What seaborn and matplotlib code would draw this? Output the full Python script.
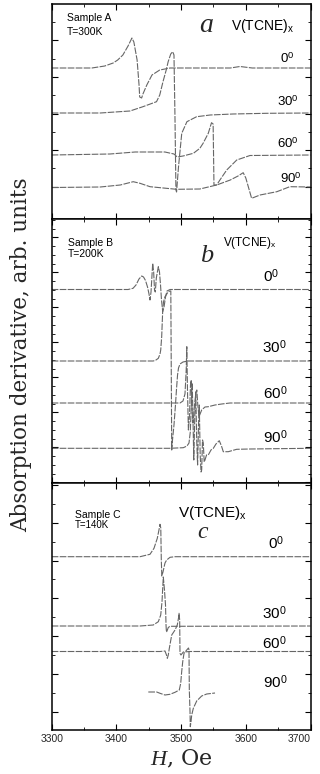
import numpy as np
import pandas as pd
import matplotlib
matplotlib.use('Agg')
import matplotlib.pyplot as plt
import seaborn as sns
from matplotlib.ticker import MultipleLocator, FixedLocator, NullFormatter

sns.set_style('ticks')
plt.rcParams['font.family'] = ['Liberation Sans', 'DejaVu Sans']
plt.rcParams['mathtext.fontset'] = 'custom'
plt.rcParams['mathtext.rm'] = 'Liberation Sans'
plt.rcParams['mathtext.it'] = 'Liberation Serif:italic'
plt.rcParams['mathtext.bf'] = 'Liberation Sans:bold'

# ---------------- data (H in Oe, derivative signal in arb. units) ----------------
angles = ['0', '30', '60', '90']

# Sample A, T=300K
a0_H = [3300, 3362, 3382, 3395, 3402, 3410, 3418, 3424, 3427, 3432, 3435, 3436, 3439, 3441, 3447, 3455, 3467, 3483, 3506, 3576, 3591, 3610, 3622, 3700]
a0_S = [0, 0, 2, 5, 8, 13, 22, 30, 26, 8, -17, -29, -30, -26, -17, -7, -2, 0, 0, 0, 1.5, 0, 0, 0]
a30_H = [3300, 3375, 3421, 3441, 3462, 3467, 3472, 3477, 3480, 3484, 3487, 3489, 3490.6, 3492, 3493, 3496, 3501, 3509, 3524, 3545, 3580, 3632, 3700]
a30_S = [0, 0, 2, 6.3, 11.3, 18, 31.3, 43, 51.3, 59, 61.3, 58, -7, -77, -79, -53.7, -20.3, -8.7, -3.7, -2, -1, -0.3, 0]
a60_H = [3300, 3390, 3429, 3452, 3475, 3489, 3494, 3503, 3519, 3529, 3534, 3542, 3547, 3549.5, 3550.8, 3555, 3560, 3570.5, 3586, 3606.5, 3700]
a60_S = [0, 1, 3, 3, 3, 1, -2, -1, 1.7, 6.7, 11.7, 21.7, 32.3, 31, -30, -30, -25, -15, -5, -0.5, 0]
a90_H = [3300, 3375, 3406, 3426, 3436.5, 3452, 3493, 3529, 3555, 3576, 3588, 3596, 3600, 3609, 3622, 3648, 3668, 3700]
a90_S = [0, 0.5, 2.5, 5.8, 4.2, 0.8, -1.8, -1.5, 2.5, 7.5, 11.5, 14.8, 9.5, -10.8, -7.5, -4.2, 0.8, 0.5]
a_offsets = [151, 106, 64, 31.5]

# Sample B, T=200K
b0_H = [3300, 3418, 3425.7, 3430.3, 3434.9, 3439.1, 3441.9, 3445, 3448.1, 3450.4, 3451.9, 3453.5, 3456.1, 3457.6, 3458.9, 3460.1, 3461.7, 3464.8, 3466.6, 3468.2, 3469.7, 3471.6, 3473.6, 3475.9, 3478.2, 3482.9, 3700]
b0_S = [0, 0, 1.2, 4.5, 10.5, 13.5, 12.5, 9, 2.5, -4.5, -10.5, -2.5, 26.2, 17.5, -0.5, -2.5, 11.5, 22.8, 17.5, 4.5, -10.5, -22.2, -17.5, -7.5, -1.5, 0, 0]
b30_H = [3300, 3452, 3457, 3461.2, 3464.8, 3467.4, 3468.5, 3470, 3471.6, 3472.8, 3475.1, 3480.2, 3482.8, 3484.1, 3485.5, 3486.7, 3489, 3491.3, 3492.8, 3494.5, 3496, 3498.3, 3502.9, 3510.7, 3700]
b30_S = [0, 0, 0, 1, 2.7, 7, 11, 24.3, 51, 59, 64.3, 69.3, 70, 70, -89, -79, -64, -44, -29, -14, -7, -3, -1, 0, 0]
b60_H = [3300, 3498.3, 3502.9, 3506, 3507.9, 3508.8, 3510, 3511.3, 3513, 3514.5, 3515.6, 3516.8, 3518.4, 3520.7, 3523, 3524.3, 3525.8, 3527.7, 3531.8, 3536.9, 3542, 3552.4, 3562.8, 3575.6, 3700]
b60_S = [0, 0, 2, 9, 33, 56.3, 8, -27, -12, 18, 23, -7, -20, -2, 11, 13, -2, -13.7, -7, -4, -3.7, -2, -1, 0, 0]
b90_H = [3300, 3482.8, 3503.4, 3509.1, 3512.2, 3514.2, 3515.8, 3517.2, 3518.4, 3519.6, 3521.2, 3522.7, 3524.1, 3525.5, 3526.9, 3528.1, 3529.5, 3530.8, 3531.8, 3533.1, 3534.3, 3535.7, 3536.9, 3539.3, 3542, 3546.2, 3549.8, 3553.9, 3559, 3562.4, 3565.2, 3572.9, 3585.9, 3606.5, 3700]
b90_S = [0, 0, 0.6, 2.3, 5.3, 16.3, 43.3, 65.3, 28.3, -11.7, 33.3, 56.3, 8.3, -16.7, 23.3, 43.3, -6.7, -23.7, -21.7, 8.3, 5.3, -13.7, -11.7, -6.7, -6.7, -1.7, 0, 4.3, 7.6, 2.3, -3.4, -3.4, -1, -0.7, 0]
b_offsets = [193.8, 122.3, 80.3, 35]

# Sample C, T=140K
c0_H = [3300, 3436.5, 3451.9, 3458.1, 3463.2, 3466.3, 3467.4, 3468.6, 3469.4, 3470.2, 3472, 3475.1, 3477.7, 3482.9, 3490.6, 3700]
c0_S = [0, 0, 2.4, 8.4, 18.4, 28.4, 32.4, 28.7, -3.3, -19.3, -15.3, -6.3, -3.3, -0.6, 0, 0]
c30_H = [3300, 3436.5, 3457, 3464.8, 3468.5, 3470.5, 3471.6, 3472.5, 3474.3, 3475.9, 3476.7, 3477.3, 3478.2, 3480.2, 3482.8, 3700]
c30_S = [0, 0, 1, 4.3, 11, 24.3, 38, 49, 36, 21, 1, -6, -5, -1.5, -0.3, 0]
c60_H = [3300, 3467.4, 3475.1, 3477.4, 3478.7, 3480.2, 3481.8, 3485.5, 3490.6, 3494.1, 3496, 3496.8, 3497.8, 3498.3, 3499.8, 3503.4, 3513.8, 3700]
c60_S = [0, 0, 0.5, -3.5, -6.8, -3.5, 3.2, 16.5, 21.5, 26.5, 33.5, 38.2, 31.5, -1.8, -3.5, -0.5, 0, 0]
c90_H = [3449.3, 3462.3, 3467.4, 3475.1, 3482.8, 3490.6, 3497.2, 3499.4, 3500.9, 3502.5, 3504.5, 3508.7, 3511.4, 3512.2, 3512.7, 3513.8, 3514.2, 3515.3, 3516.4, 3518.9, 3524.1, 3531.8, 3539.6, 3552.4]
c90_S = [0.5, 0.5, -0.8, -2.5, -1.8, 0.2, 2.5, 9.2, 20.8, 30.8, 39.2, 42.5, 44.5, 42.5, 2.5, -19.5, -34.2, -29.5, -22.5, -15.8, -8.5, -3.5, -1.5, -0.5]
c_offsets = [173.3, 104, 78.5, 37.5]

x_ticks = [3300, 3400, 3500, 3600, 3700]

# ---------------- figure ----------------
W, HH = 320, 774
fig = plt.figure(figsize=(W / 100, HH / 100), dpi=100)
fig.patch.set_facecolor('white')

LEFT, RIGHT = 51.7, 310.5
def rect(top, bottom):
    return [LEFT / W, 1 - bottom / HH, (RIGHT - LEFT) / W, (bottom - top) / HH]

def fx(px):
    return px / W
def fy(py):
    return 1 - py / HH

line_color = '#666666'

def build(Hs, Ss, offs):
    frames = []
    for ang, h, s, o in zip(angles, Hs, Ss, offs):
        frames.append(pd.DataFrame({'H': h, 'y': np.asarray(s, float) + o, 'angle': ang}))
    return pd.concat(frames, ignore_index=True)

panels = [
    dict(top=4, bottom=219, H=[a0_H, a30_H, a60_H, a90_H], S=[a0_S, a30_S, a60_S, a90_S], off=a_offsets,
         yt=np.arange(32.3, 215, 18.3)),
    dict(top=219, bottom=483.3, H=[b0_H, b30_H, b60_H, b90_H], S=[b0_S, b30_S, b60_S, b90_S], off=b_offsets,
         yt=np.arange(1.0, 264, 8.75)),
    dict(top=483.3, bottom=730, H=[c0_H, c30_H, c60_H, c90_H], S=[c0_S, c30_S, c60_S, c90_S], off=c_offsets,
         yt=np.arange(18.3, 246, 18.9)),
]

axes = []
for i, p in enumerate(panels):
    ax = fig.add_axes(rect(p['top'], p['bottom']))
    df = build(p['H'], p['S'], p['off'])
    sns.lineplot(data=df, x='H', y='y', units='angle', estimator=None, sort=False,
                 color=line_color, linewidth=0.8, linestyle=(0, (6, 1.2)), ax=ax, legend=False)
    ax.set_xlim(3300, 3700)
    ax.set_ylim(0, p['bottom'] - p['top'])
    ax.set_facecolor('white')
    for sp in ax.spines.values():
        sp.set_visible(True)
        sp.set_color('black')
        sp.set_linewidth(1.1)
    ax.xaxis.set_major_locator(FixedLocator(x_ticks))
    ax.xaxis.set_minor_locator(MultipleLocator(50))
    yt = p['yt']
    step = 2 if i != 1 else 4
    ax.yaxis.set_major_locator(FixedLocator(yt[::step]))
    ax.yaxis.set_minor_locator(FixedLocator(yt))
    ax.yaxis.set_major_formatter(NullFormatter())
    ax.tick_params(axis='both', which='both', direction='in', top=True, right=True, color='black')
    ax.tick_params(axis='both', which='major', length=4, width=0.8)
    ax.tick_params(axis='both', which='minor', length=2.5, width=0.6)
    ax.set_xlabel('')
    ax.set_ylabel('')
    if i < 2:
        ax.xaxis.set_major_formatter(NullFormatter())
    else:
        ax.set_xticklabels([str(t) for t in x_ticks], fontsize=7.5)
        ax.tick_params(axis='x', which='major', pad=3)
        labs = ax.get_xticklabels()
        labs[-1].set_horizontalalignment('right')
    axes.append(ax)

# ---------------- texts ----------------
def t(px, py, s, **kw):
    fig.text(fx(px), fy(py), s, **kw)

sans = dict(ha='left', va='center', color='black')
# panel a
t(66.7, 18.3, 'Sample A', fontsize=7.5, **sans)
t(66.7, 32.3, 'T=300K', fontsize=7.5, **sans)
t(206.7, 25, '$a$', fontsize=20, ha='center', va='center')
t(230.7, 26, 'V(TCNE)$_{\\mathregular{x}}$', fontsize=10, **sans)
for (x, y), ang in zip([(280, 58.3), (276.7, 101.7), (276.7, 143.3), (280, 178.3)], angles):
    t(x, y, ang + '$^{\\mathregular{0}}$', fontsize=9.5, **sans)
# panel b
t(68, 242.7, 'Sample B', fontsize=7.5, **sans)
t(68, 254, 'T=200K', fontsize=7.5, **sans)
t(206.7, 255, '$b$', fontsize=19, ha='center', va='center')
t(222.7, 243.3, 'V(TCNE)$_{\\mathregular{x}}$', fontsize=8.5, **sans)
for (x, y), ang in zip([(263, 276), (261.7, 346.7), (262.7, 392.7), (262.7, 436.7)], angles):
    t(x, y, ang + '$^{\\mathregular{0}}$', fontsize=11, **sans)
# panel c
t(75, 515, 'Sample C', fontsize=7.5, **sans)
t(75, 525.5, 'T=140K', fontsize=7, **sans)
t(178.3, 513.3, 'V(TCNE)$_{\\mathregular{x}}$', fontsize=11, **sans)
t(203.3, 531.7, '$c$', fontsize=17, ha='center', va='center')
for (x, y), ang in zip([(267.7, 543.3), (261.7, 613.3), (261.7, 643.3), (262.7, 681.7)], angles):
    t(x, y, ang + '$^{\\mathregular{0}}$', fontsize=11, **sans)

# axis labels
t(181, 759, '$H$, Oe', fontsize=16, ha='center', va='center', family='DejaVu Serif')
t(21, 355, 'Absorption derivative, arb. units', fontsize=15.5, rotation=90,
  ha='center', va='center', family='DejaVu Serif')

fig.savefig('out.png', dpi=100, facecolor='white')
